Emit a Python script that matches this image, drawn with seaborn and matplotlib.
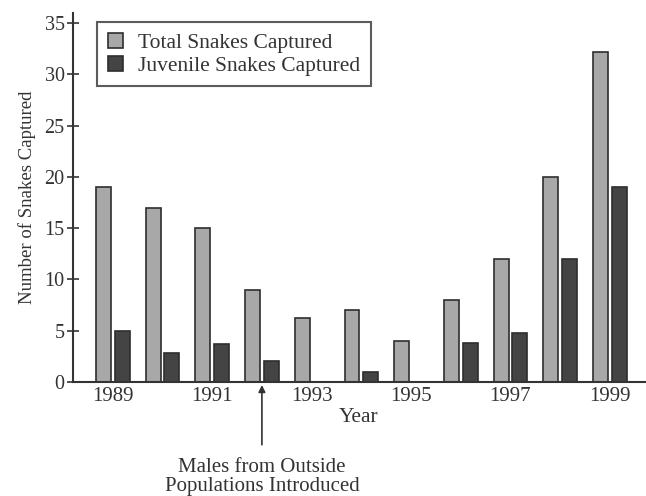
import pandas as pd
import seaborn as sns
import matplotlib.pyplot as plt

# values
years = [1989, 1990, 1991, 1992, 1993, 1994, 1995, 1996, 1997, 1998, 1999]
total = [19, 17, 15, 9, 6.2, 7, 4, 8, 12, 20, 32.2]
juvenile = [5, 2.8, 3.7, 2, 0, 1, 0, 3.8, 4.8, 12, 19]
series_names = ['Total Snakes Captured', 'Juvenile Snakes Captured']
year_labels = [str(y) if y % 2 == 1 else '' for y in years]

df = pd.DataFrame({
    'Year': years * 2,
    'Count': total + juvenile,
    'Series': [series_names[0]] * len(years) + [series_names[1]] * len(years),
})

sns.set_style('white')
plt.rcParams['font.family'] = ['Liberation Serif', 'DejaVu Serif']
plt.rcParams['text.color'] = '#333333'
plt.rcParams['axes.labelcolor'] = '#333333'

fig = plt.figure(figsize=(6.46, 4.96), dpi=100)
ax = fig.add_axes([0.113, 0.23, 0.885, 0.744])

sns.barplot(data=df, x='Year', y='Count', hue='Series', hue_order=series_names,
            palette=['#a8a8a8', '#444444'], width=0.75, gap=0.2,
            edgecolor='#2e2e2e', linewidth=1.2, saturation=1, ax=ax)

ax.set_xlim(-0.8, 10.7)
ax.set_ylim(0, 36)
ax.set_yticks(range(0, 36, 5))
ax.set_xticks(range(len(years)))
ax.set_xticklabels(year_labels)
ax.tick_params(axis='x', length=0, pad=4, labelsize=15, colors='#333333')
ax.tick_params(axis='y', direction='inout', length=8, width=1.2, labelsize=14.5,
               colors='#333333', left=True, pad=2)
sns.despine(ax=ax)
for s in ['left', 'bottom']:
    ax.spines[s].set_color('#333333')
    ax.spines[s].set_linewidth(1.5)

ax.set_xlabel('Year', fontsize=15.5, labelpad=1)
ax.set_ylabel('Number of Snakes Captured', fontsize=13.5, labelpad=6)

leg = ax.legend(loc='upper left', bbox_to_anchor=(0.042, 0.975), fontsize=15.5,
                frameon=True, fancybox=False, edgecolor='#333333',
                handlelength=0.7, handleheight=0.7, handletextpad=0.7,
                borderpad=0.5, labelspacing=0.12, borderaxespad=0)
leg.get_frame().set_linewidth(1.5)

ax.annotate('Males from Outside\nPopulations Introduced', xy=(3, -0.3),
            xytext=(3, -7.4), ha='center', va='top', fontsize=15,
            linespacing=1.05, annotation_clip=False,
            arrowprops=dict(arrowstyle='-|>', color='#333333', lw=1.2,
                            shrinkA=7, shrinkB=0, mutation_scale=10))

fig.savefig('out.png', dpi=100)
